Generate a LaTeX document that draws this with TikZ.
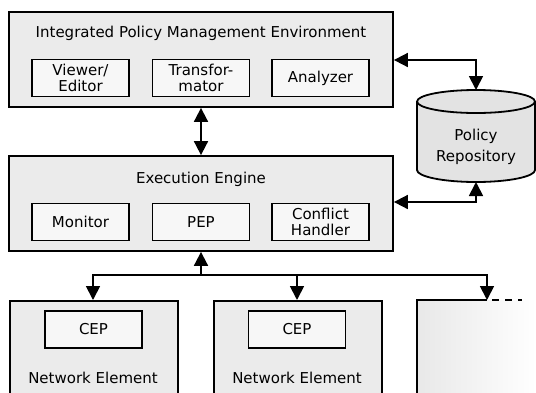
\documentclass[tikz,border=0pt]{standalone}
\usepackage{fontspec}
\setmainfont{DejaVu Sans}
\usetikzlibrary{arrows.meta}
\begin{document}
\begin{tikzpicture}[x=1pt,y=-1pt,
  outer/.style={draw=black, line width=1.8pt, fill=black!8},
  inner/.style={draw=black, line width=1.8pt, fill=black!3, minimum width=97pt, minimum height=37pt, inner sep=0pt, align=center, font=\fontsize{15}{16}\selectfont},
  lbl/.style={font=\fontsize{15}{21}\selectfont, align=center},
  conn/.style={line width=1.8pt, {Triangle[length=14pt,width=14pt]}-{Triangle[length=14pt,width=14pt]}},
  conn1/.style={line width=1.8pt, -{Triangle[length=14pt,width=14pt]}},
]
\useasboundingbox (0,0) rectangle (536,392);
\clip (0,0) rectangle (536,392);
% top box
\node[outer, minimum width=384pt, minimum height=95pt, inner sep=0pt] (ipme) at (201,59.5) {};
\node[lbl] (ipmet) at (201,33) {Integrated Policy Management Environment};
\node[inner] (view) at (80.5,78) {Viewer/\\Editor};
\node[inner] (trans) at (201,78) {Transfor-\\mator};
\node[inner] (anal) at (320.5,78) {Analyzer};
% execution engine
\node[outer, minimum width=384pt, minimum height=95pt, inner sep=0pt] (exe) at (201,203.5) {};
\node[lbl] (exet) at (201,179) {Execution Engine};
\node[inner] (mon) at (80.5,222) {Monitor};
\node[inner] (pep) at (201,222) {PEP};
\node[inner] (conf) at (320.5,222) {Conflict\\Handler};
% cylinder
\draw[line width=1.8pt, fill=black!11] (417,101.5) -- (417,170) arc[start angle=180,end angle=0,x radius=59,y radius=12] -- (535,101.5) arc[start angle=0,end angle=-180,x radius=59,y radius=11.5] -- cycle;
\draw[line width=1.8pt] (417,101.5) arc[start angle=180,end angle=0,x radius=59,y radius=11.5];
\node[lbl] (repo) at (476,147) {Policy\\Repository};
\coordinate (cyltop) at (476,90);
\coordinate (cylbot) at (476,182);
% network elements
\node[outer, minimum width=168pt, minimum height=110pt, inner sep=0pt, anchor=north west] (ne1) at (9,300) {};
\node[inner] (cep1) at (93.5,329.5) {CEP};
\node[lbl] (ne1t) at (93,378) {Network Element};
\node[outer, minimum width=168pt, minimum height=110pt, inner sep=0pt, anchor=north west] (ne2) at (213,300) {};
\node[inner] (cep2) at (297,329.5) {CEP};
\node[lbl] (ne2t) at (297,378) {Network Element};
% third faded box
\shade[left color=black!9, right color=white] (417,300) rectangle (536,400);
\draw[line width=1.8pt] (417,400) -- (417,300) -- (487,300);
\draw[line width=1.8pt, dash pattern=on 7pt off 6pt] (492,300) -- (522,300);
\coordinate (ne3top) at (487,300);
% connectors
\draw[conn] (ipme.south) -- (exe.north);
\draw[conn] (ipme.east |- 0,60) -| (cyltop);
\draw[conn] (exe.east |- 0,202) -| (cylbot);
\coordinate (bus) at (201,275);
\draw[conn1] (bus) -- (exe.south);
\draw[conn1] (bus) -| (ne1.north -| 93,0);
\draw[conn1] (bus) -| (ne2.north -| 297,0);
\draw[conn1] (bus) -| (ne3top);
\end{tikzpicture}
\end{document}
